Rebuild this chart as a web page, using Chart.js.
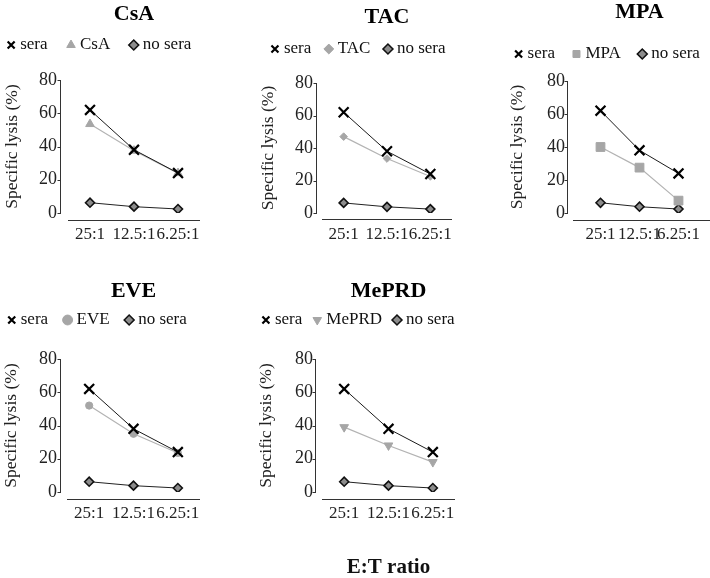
<!DOCTYPE html>
<html>
<head>
<meta charset="utf-8">
<script src="https://cdn.jsdelivr.net/npm/chart.js@4.4.1/dist/chart.umd.min.js"></script>
<style>
  html, body { margin: 0; padding: 0; background: #fff; overflow: hidden; }
  body { width: 710px; height: 578px; position: relative; }
  canvas { position: absolute; }
</style>
</head>
<body>
<canvas id="csaGraph"></canvas>
<canvas id="tacGraph"></canvas>
<canvas id="mpaGraph"></canvas>
<canvas id="eveGraph"></canvas>
<canvas id="meprdGraph"></canvas>
<script>
// Dados
const ratios = ['25:1', '12.5:1', '6.25:1'];
const yMin = 0, yMax = 80, yStep = 20;

const sera = [62, 38, 24];
const noSera = [6.2, 3.8, 2.4];
const csa = [53.5, 37.5, 24];
const tac = [47, 33.5, 22.5];
const mpa = [40, 27.5, 7.5];
const eve = [52, 35, 23.5];
const meprd = [39, 28, 18];

Chart.defaults.font.family = "'Liberation Serif', 'Times New Roman', serif";
Chart.defaults.color = '#222';
Chart.defaults.animation = false;

const LEGEND_FONT = 17;
const TITLE_FONT = 22;
const CANVAS_W = 250;

// eixos separados (estilo Prism)
const detachedAxes = {
    id: 'detachedAxes',
    beforeDatasetsDraw(chart, args, opts) {
        const {ctx, chartArea, scales: {y}} = chart;
        const yx = Math.round(chartArea.left - opts.yGap) + 0.5;
        const xy = Math.round(chartArea.bottom + opts.xDrop) + 0.5;
        ctx.save();
        ctx.strokeStyle = '#333';
        ctx.lineWidth = 1;
        ctx.beginPath();
        ctx.moveTo(yx, y.getPixelForValue(yMax));
        ctx.lineTo(yx, y.getPixelForValue(yMin) + 1);
        y.ticks.forEach(t => {
            const py = Math.round(y.getPixelForValue(t.value)) + 0.5;
            ctx.moveTo(yx - 3, py);
            ctx.lineTo(yx, py);
        });
        ctx.moveTo(chartArea.left - opts.xExt[0], xy);
        ctx.lineTo(chartArea.right + opts.xExt[1], xy);
        ctx.stroke();
        ctx.restore();
    }
};

function makeGraph(p) {
    const canvas = document.getElementById(p.id);
    const L = Math.round(p.legendCx - CANVAS_W / 2);
    const titleLH = TITLE_FONT * 1.2;
    const T = Math.round(p.titleY - titleLH / 2 - 2);
    const titlePadTop = p.titleY - titleLH / 2 - T;
    const legendTop = p.legendY - p.gap - LEGEND_FONT / 2;
    const titlePadBottom = legendTop - (p.titleY + titleLH / 2);
    const legendBottom = legendTop + LEGEND_FONT + p.gap + 10;
    const spacer = p.plotTop - legendBottom;
    const bottom = p.bottom || (p.plotBot + 40);
    const H = Math.round(bottom - T);
    const xH = T + H - p.plotBot;
    const yW = p.plotL - L;
    const rightW = L + CANVAS_W - p.plotR;

    canvas.width = CANVAS_W;
    canvas.height = H;
    canvas.style.left = L + 'px';
    canvas.style.top = T + 'px';

    const xScale = {
        type: 'category',
        offset: true,
        grid: {display: false, drawTicks: false},
        border: {display: false},
        ticks: {autoSkip: false, maxRotation: 0, minRotation: 0, padding: 11.5,
                font: {size: 17}, color: '#222'},
        afterFit: s => { s.height = xH; }
    };
    if (p.xTitle) {
        xScale.title = {display: true, text: p.xTitle, color: '#111',
                        font: {size: 21, weight: 'bold'},
                        padding: {top: 0, bottom: bottom - p.xTitleY - 12.6}};
    }

    return new Chart(canvas, {
        type: 'line',
        data: {
            labels: ratios,
            datasets: [{
                label: 'sera',
                data: sera,
                borderColor: '#1a1a1a',
                borderWidth: 1,
                pointStyle: 'crossRot',
                pointRadius: 7,
                pointBorderWidth: 2.2,
                pointBorderColor: '#000',
                pointBackgroundColor: '#000'
            }, {
                label: p.title,
                data: p.drug,
                borderColor: '#b3b3b3',
                borderWidth: 1.2,
                pointStyle: p.marker,
                pointRadius: p.markerSize,
                pointRotation: p.markerRot || 0,
                pointBorderWidth: 1,
                pointBorderColor: '#a6a6a6',
                pointBackgroundColor: '#a6a6a6'
            }, {
                label: 'no sera',
                data: noSera,
                borderColor: '#222',
                borderWidth: 1,
                pointStyle: 'rectRot',
                pointRadius: 4.5,
                pointBorderWidth: 1.6,
                pointBorderColor: '#111',
                pointBackgroundColor: '#8c8c8c'
            }]
        },
        options: {
            responsive: false,
            events: [],
            layout: {padding: 0},
            scales: {
                x: xScale,
                y: {
                    min: yMin,
                    max: yMax,
                    grid: {display: false, drawTicks: false},
                    border: {display: false},
                    ticks: {stepSize: yStep, padding: p.yLabelPad, font: {size: 18}, color: '#222'},
                    title: {display: true, text: 'Specific lysis (%)', color: '#222',
                            font: {size: 17.5},
                            padding: {top: p.yTitleX - L - 10.5, bottom: 0}},
                    afterFit: s => { s.width = yW; }
                },
                y2: {
                    type: 'linear',
                    position: 'right',
                    display: true,
                    grid: {display: false},
                    border: {display: false},
                    ticks: {display: false},
                    afterFit: s => { s.width = rightW; }
                }
            },
            plugins: {
                title: {
                    display: true,
                    text: p.title,
                    fullSize: false,
                    color: '#000',
                    font: {size: TITLE_FONT, weight: 'bold'},
                    padding: {top: titlePadTop, bottom: titlePadBottom}
                },
                subtitle: {
                    display: true,
                    text: '',
                    weight: 500,
                    font: {size: 1, lineHeight: 1},
                    padding: {top: 0, bottom: spacer - 1}
                },
                legend: {
                    display: true,
                    position: 'top',
                    align: 'center',
                    labels: {
                        usePointStyle: true,
                        boxWidth: 1,
                        boxHeight: 7,
                        padding: p.gap,
                        color: '#111',
                        font: {size: LEGEND_FONT}
                    }
                },
                tooltip: {enabled: false},
                detachedAxes: {yGap: p.yGap, xDrop: p.xDrop, xExt: p.xExt}
            }
        },
        plugins: [detachedAxes]
    });
}

let csaGraph, tacGraph, mpaGraph, eveGraph, meprdGraph;

csaGraph = makeGraph({
    id: 'csaGraph', title: 'CsA', drug: csa, marker: 'triangle', markerSize: 5,
    titleY: 14, legendCx: 101, legendY: 45, gap: 23,
    plotL: 68, plotR: 200, plotTop: 80, plotBot: 213,
    yGap: 8, yLabelPad: 11, xDrop: 7, xExt: [0, 0], yTitleX: 12
});

tacGraph = makeGraph({
    id: 'tacGraph', title: 'TAC', drug: tac, marker: 'rectRot', markerSize: 3.8,
    titleY: 17, legendCx: 360, legendY: 49, gap: 17,
    plotL: 322, plotR: 452, plotTop: 83, plotBot: 213,
    yGap: 6, yLabelPad: 9, xDrop: 6, xExt: [0, 0], yTitleX: 268
});

mpaGraph = makeGraph({
    id: 'mpaGraph', title: 'MPA', drug: mpa, marker: 'rect', markerSize: 6.2,
    titleY: 12.5, legendCx: 609, legendY: 54, gap: 21,
    plotL: 581, plotR: 698, plotTop: 81, plotBot: 213,
    yGap: 14, yLabelPad: 16, xDrop: 7, xExt: [8, 12], yTitleX: 517
});

eveGraph = makeGraph({
    id: 'eveGraph', title: 'EVE', drug: eve, marker: 'circle', markerSize: 3.6,
    titleY: 291, legendCx: 99, legendY: 320, gap: 19,
    plotL: 67, plotR: 200, plotTop: 359, plotBot: 492,
    yGap: 7, yLabelPad: 10, xDrop: 7, xExt: [0, 0], yTitleX: 11
});

meprdGraph = makeGraph({
    id: 'meprdGraph', title: 'MePRD', drug: meprd, marker: 'triangle', markerSize: 5, markerRot: 180,
    titleY: 291, legendCx: 360, legendY: 320, gap: 14.5,
    plotL: 322, plotR: 455, plotTop: 359, plotBot: 492,
    yGap: 7, yLabelPad: 9, xDrop: 7, xExt: [0, 0], yTitleX: 266,
    xTitle: 'E:T ratio', xTitleY: 568, bottom: 584
});
</script>
</body>
</html>
